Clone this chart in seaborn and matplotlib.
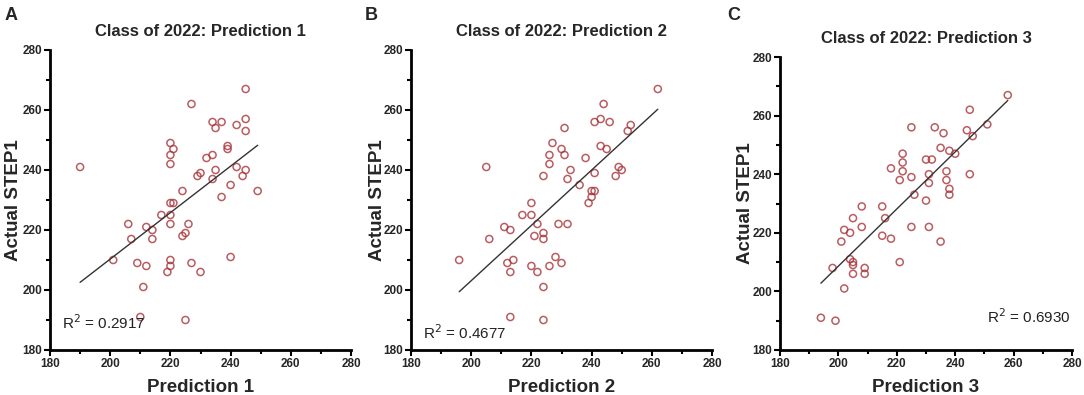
import numpy as np
import pandas as pd
import matplotlib
matplotlib.use("Agg")
import matplotlib.pyplot as plt
from matplotlib.ticker import MultipleLocator
import seaborn as sns

# ---------------- data ----------------
pred1 = [245, 227, 234, 237, 235, 242, 245, 245, 220, 221, 220, 220, 239, 239, 234, 232,
         190, 230, 229, 235, 242, 245, 244, 234, 240, 249, 224, 237, 220, 221, 217, 220,
         206, 212, 214, 220, 226, 225, 224, 207, 214, 201, 209, 212, 220, 220, 219, 227,
         230, 240, 211, 210, 225]
actual1 = [267, 262, 256, 256, 254, 255, 257, 253, 249, 247, 245, 242, 248, 247, 245, 244,
           241, 239, 238, 240, 241, 240, 238, 237, 235, 233, 233, 231, 229, 229, 225, 225,
           222, 221, 220, 222, 222, 219, 218, 217, 217, 210, 209, 208, 210, 208, 206, 209,
           206, 211, 201, 191, 190]

pred2 = [244, 241, 243, 246, 253, 252, 231, 227, 230, 231, 226, 226, 243, 245, 238, 205,
         233, 224, 232, 241, 249, 250, 248, 236, 240, 241, 240, 239, 220, 217, 220, 222,
         229, 232, 211, 213, 221, 224, 224, 206, 196, 212, 214, 213, 220, 222, 226, 228,
         230, 224, 213, 224, 262]
actual2 = [262, 256, 257, 256, 255, 253, 254, 249, 247, 245, 245, 242, 248, 247, 244, 241,
           240, 238, 237, 239, 241, 240, 238, 235, 233, 233, 231, 229, 229, 225, 225, 222,
           222, 222, 221, 220, 218, 219, 217, 217, 210, 209, 210, 206, 208, 206, 208, 211,
           209, 201, 191, 190, 267]

pred3 = [258, 245, 251, 244, 246, 225, 233, 236, 235, 238, 240, 222, 222, 218, 222, 221,
         225, 230, 232, 231, 231, 237, 237, 245, 238, 238, 226, 230, 208, 215, 205, 216,
         202, 204, 208, 215, 218, 225, 231, 201, 235, 221, 204, 205, 205, 198, 209, 205,
         209, 202, 194, 199]
actual3 = [267, 262, 257, 255, 253, 256, 256, 254, 249, 248, 247, 247, 244, 242, 241, 238,
           239, 245, 245, 240, 237, 241, 238, 240, 235, 233, 233, 231, 229, 229, 225, 225,
           221, 220, 222, 219, 218, 222, 222, 217, 217, 210, 211, 210, 209, 208, 208, 206,
           206, 201, 191, 190]

titles = ["Class of 2022: Prediction 1", "Class of 2022: Prediction 2", "Class of 2022: Prediction 3"]
xlabels = ["Prediction 1", "Prediction 2", "Prediction 3"]
ylabel = "Actual STEP1"
letters = ["A", "B", "C"]
r2_texts = ["R$^2$ = 0.2917", "R$^2$ = 0.4677", "R$^2$ = 0.6930"]
r2_pos = [(184, 189), (184, 185.7), (251, 191.3)]

# ---------------- style ----------------
sns.set_theme(style="ticks")
plt.rcParams["font.family"] = ["Liberation Sans", "DejaVu Sans"]

W, H = 1084, 395
fig = plt.figure(figsize=(W / 100, H / 100), dpi=100)

boxes = [
    (50, 50, 301, 300),
    (411, 50, 301, 300),
    (780, 57, 292, 293),
]
ylabel_px = [14, 377, 745]
letter_px = [(5, 7), (365, 7), (727, 7)]

datasets = [(pred1, actual1), (pred2, actual2), (pred3, actual3)]
mcolor = "#a8343a"

for i, ((xs, ys), (l, t, w, h)) in enumerate(zip(datasets, boxes)):
    ax = fig.add_axes([l / W, (H - t - h) / H, w / W, h / H])
    df = pd.DataFrame({"x": xs, "y": ys})
    sns.regplot(data=df, x="x", y="y", ax=ax, ci=None, truncate=True,
                scatter_kws=dict(s=26, facecolors="none", edgecolors=mcolor, linewidths=1.1),
                line_kws=dict(color="#333333", lw=1.0))
    ax.set_xlim(180, 280)
    ax.set_ylim(180, 280)
    ax.xaxis.set_major_locator(MultipleLocator(20))
    ax.xaxis.set_minor_locator(MultipleLocator(10))
    ax.yaxis.set_major_locator(MultipleLocator(20))
    ax.yaxis.set_minor_locator(MultipleLocator(10))
    for s in ["top", "right"]:
        ax.spines[s].set_visible(False)
    for s in ["left", "bottom"]:
        ax.spines[s].set_color("black")
        ax.spines[s].set_linewidth(2.0)
    ax.tick_params(which="major", direction="out", length=4, width=1.5, color="black",
                   labelsize=8.5, pad=1.5)
    ax.tick_params(which="minor", direction="out", length=3, width=1.5, color="black")
    for lab in ax.get_xticklabels() + ax.get_yticklabels():
        lab.set_fontweight("bold")
    ax.set_title(titles[i], fontsize=12, fontweight="bold", pad=10)
    ax.set_xlabel(xlabels[i], fontsize=13.5, fontweight="bold", labelpad=7)
    ax.set_ylabel(ylabel, fontsize=13.5, fontweight="bold")
    ax.yaxis.set_label_coords((ylabel_px[i] - l) / w, 0.5)
    ax.yaxis.label.set_va("center")
    ax.text(r2_pos[i][0], r2_pos[i][1], r2_texts[i], fontsize=11, va="center", ha="left",
            color="#222222")
    fig.text(letter_px[i][0] / W, 1 - letter_px[i][1] / H, letters[i], fontsize=13,
             fontweight="bold", va="top", ha="left")

fig.savefig("out.png", dpi=100)
